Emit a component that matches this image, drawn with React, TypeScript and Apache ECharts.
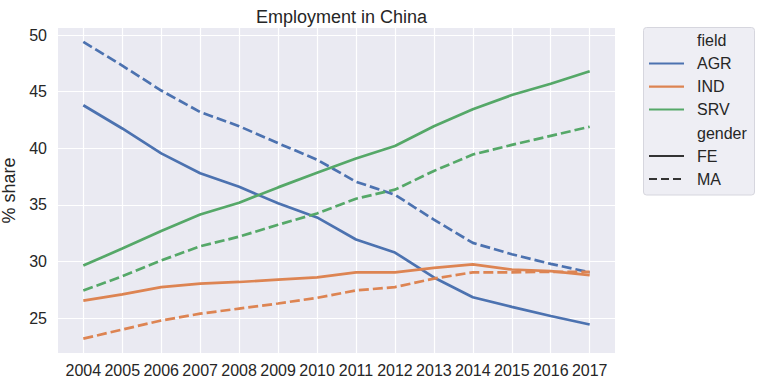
import React, { useEffect, useRef } from "react";
import * as echarts from "echarts";

const years = [2004, 2005, 2006, 2007, 2008, 2009, 2010, 2011, 2012, 2013, 2014, 2015, 2016, 2017];
const agrFE = [43.8, 41.75, 39.55, 37.8, 36.6, 35.15, 33.9, 31.95, 30.8, 28.6, 26.85, 26.0, 25.2, 24.45];
const agrMA = [49.4, 47.3, 45.1, 43.2, 41.95, 40.45, 39.0, 37.05, 35.9, 33.7, 31.65, 30.65, 29.8, 29.05];
const indFE = [26.55, 27.1, 27.75, 28.05, 28.2, 28.4, 28.6, 29.05, 29.05, 29.45, 29.75, 29.3, 29.15, 28.8];
const indMA = [23.2, 24.0, 24.8, 25.4, 25.85, 26.3, 26.8, 27.45, 27.75, 28.5, 29.05, 29.05, 29.1, 29.1];
const srvFE = [29.65, 31.15, 32.7, 34.15, 35.2, 36.55, 37.85, 39.1, 40.2, 41.95, 43.45, 44.7, 45.7, 46.8];
const srvMA = [27.45, 28.7, 30.1, 31.35, 32.2, 33.25, 34.25, 35.55, 36.35, 38.0, 39.45, 40.3, 41.1, 41.9];
const yTicks = [25, 30, 35, 40, 45, 50];
const fields = ["AGR", "IND", "SRV"];
const genders = ["FE", "MA"];

const COLORS = ["#4c72b0", "#dd8452", "#55a868"];
const FONT = "'Liberation Sans', Arial, sans-serif";
const TXT = "#262626";

export default function App() {
  const ref = useRef<HTMLDivElement>(null);
  useEffect(() => {
    if (!ref.current) return;
    const chart = echarts.init(ref.current, undefined, { renderer: "svg" });
    const dataSets = [
      [agrFE, agrMA],
      [indFE, indMA],
      [srvFE, srvMA],
    ];
    const series: any[] = [];
    fields.forEach((f, fi) => {
      genders.forEach((g, gi) => {
        series.push({
          name: `${f} ${g}`,
          type: "line",
          data: years.map((y, i) => [y, dataSets[fi][gi][i]]),
          showSymbol: false,
          symbol: "none",
          lineStyle: {
            color: COLORS[fi],
            width: 2.7,
            type: gi === 1 ? [10, 4] : "solid",
            cap: "butt",
          },
          itemStyle: { color: COLORS[fi] },
          z: 3,
        });
      });
    });

    const lx0 = 649, lx1 = 684, tx = 697;
    const legendRows: any[] = [];
    const rowY = [40.7, 63.5, 86.7, 109.5, 133, 156, 179];
    const labels = ["field", ...fields, "gender", ...genders];
    labels.forEach((l, i) => {
      legendRows.push({
        type: "text",
        x: tx,
        y: rowY[i],
        style: { text: l, font: `16px ${FONT}`, fill: TXT, verticalAlign: "middle", align: "left" },
      });
    });
    fields.forEach((f, i) => {
      legendRows.push({
        type: "line",
        shape: { x1: lx0, y1: rowY[i + 1], x2: lx1, y2: rowY[i + 1] },
        style: { stroke: COLORS[i], lineWidth: 2.2 },
      });
    });
    genders.forEach((g, i) => {
      legendRows.push({
        type: "line",
        shape: { x1: lx0, y1: rowY[i + 5], x2: lx1, y2: rowY[i + 5] },
        style: { stroke: "#333333", lineWidth: 2.2, lineDash: i === 1 ? [8, 4] : null },
      });
    });

    chart.setOption({
      animation: false,
      backgroundColor: "#ffffff",
      title: {
        text: "Employment in China",
        left: 336.5,
        textAlign: "center",
        top: 3,
        textStyle: { fontFamily: FONT, fontSize: 18, fontWeight: "normal", color: TXT },
      },
      grid: {
        left: 58,
        right: 146,
        top: 28,
        bottom: 32,
        show: true,
        backgroundColor: "#eaeaf2",
        borderWidth: 0,
        containLabel: false,
        outerBoundsMode: "none",
      },
      xAxis: {
        type: "value",
        min: 2003.35,
        max: 2017.65,
        axisLine: { show: false },
        axisTick: { show: false, customValues: years },
        axisLabel: {
          customValues: years,
          fontFamily: FONT,
          fontSize: 16,
          color: TXT,
          margin: 9,
          formatter: (v: number) => String(v),
        },
        splitLine: { show: true, lineStyle: { color: "#ffffff", width: 1.2 } },
      },
      yAxis: {
        type: "value",
        min: 21.93,
        max: 50.62,
        name: "% share",
        nameLocation: "middle",
        nameGap: 36,
        nameTextStyle: { fontFamily: FONT, fontSize: 18, color: TXT },
        axisLine: { show: false },
        axisTick: { show: false, customValues: yTicks },
        axisLabel: {
          customValues: yTicks,
          fontFamily: FONT,
          fontSize: 16,
          color: TXT,
          margin: 11,
        },
        splitLine: { show: true, lineStyle: { color: "#ffffff", width: 1.2 } },
      },
      series,
      graphic: [
        {
          type: "rect",
          shape: { x: 643.5, y: 27.5, width: 111, height: 167.5, r: 3 },
          style: { fill: "#eeeef4", stroke: "#d6d6de", lineWidth: 1 },
          z: 10,
        },
        ...legendRows.map((r) => ({ ...r, z: 11 })),
      ],
    });
    return () => chart.dispose();
  }, []);
  return <div ref={ref} style={{ position: "fixed", left: 0, top: 0, width: 761, height: 385 }} />;
}
